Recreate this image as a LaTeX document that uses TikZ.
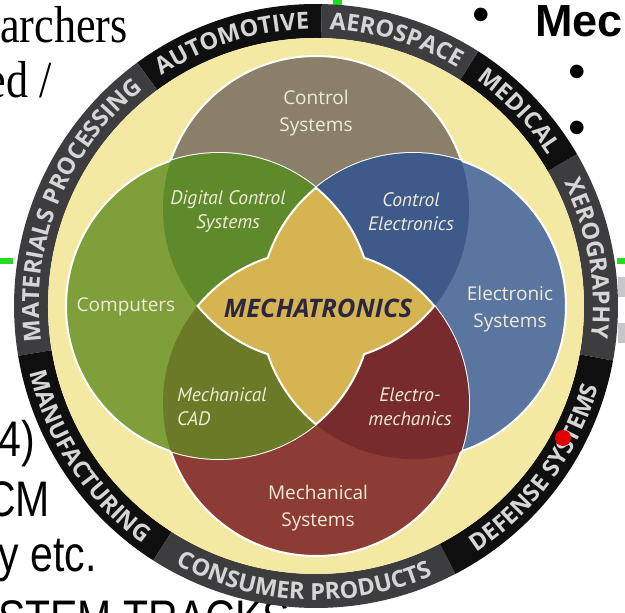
\documentclass[tikz,border=0pt]{standalone}
\usepackage{fontspec}
\setmainfont{PT Sans}
\newfontfamily\ringfamily{Open Sans}
\newfontfamily\slideserif[FakeStretch=0.85]{Liberation Serif}
\newfontfamily\slidesans[FakeStretch=0.82]{Liberation Sans}
\newfontfamily\slidebold{Liberation Sans}
\usetikzlibrary{decorations.text}

\definecolor{ringblack}{HTML}{0F0F0F}
\definecolor{ringgrey}{HTML}{3D3D40}
\definecolor{ringtext}{HTML}{D6D6D6}
\definecolor{bandyellow}{HTML}{F4E9A3}
\definecolor{ctrlgrey}{HTML}{8A806A}
\definecolor{compgreen}{HTML}{7E9F3A}
\definecolor{digigreen}{HTML}{5F8A2C}
\definecolor{elecblue}{HTML}{5A76A0}
\definecolor{ctrlblue}{HTML}{3D5A8A}
\definecolor{mechred}{HTML}{8C3C34}
\definecolor{emred}{HTML}{772B2D}
\definecolor{cadolive}{HTML}{6B7A27}
\definecolor{stargold}{HTML}{D6B451}
\definecolor{labeltext}{HTML}{EFEBD8}
\definecolor{mechatext}{HTML}{2B2742}
\definecolor{slidegreen}{HTML}{22DD22}

\newcommand{\ringfont}{\ringfamily\bfseries\fontsize{23.5}{23.5}\selectfont\color{ringtext}}
% words in the ring, read clockwise (top) or anticlockwise (bottom)
\newcommand{\ringtop}[3]{\path[decorate, decoration={text along path, text align=center,
    text={|\ringfont|#1}}] (#2:277) arc[start angle=#2, end angle=#3, radius=277];}
\newcommand{\ringbot}[3]{\path[decorate, decoration={text along path, text align=center,
    text={|\ringfont|#1}}] (#2:294) arc[start angle=#2, end angle=#3, radius=294];}

\tikzset{
  disc/.style={draw=white, line width=2pt},
  star/.style={draw=white, line width=2pt, fill=stargold},
  area/.style={text=labeltext, align=center, inner sep=0pt, font=\ringfamily\fontsize{19}{27}\selectfont},
  lens/.style={text=labeltext, align=center, inner sep=0pt, font=\itshape\fontsize{19.5}{24}\selectfont},
  core/.style={text=mechatext, inner sep=0pt, font=\ringfamily\bfseries\itshape\fontsize{25.5}{25.5}\selectfont},
  slide/.style={anchor=base east, inner sep=0pt, font=\slideserif\fontsize{52}{52}\selectfont},
  slidesf/.style={anchor=base east, inner sep=0pt, font=\slidesans\fontsize{50}{50}\selectfont},
  bullet/.style={inner sep=0pt, font=\slidebold\fontsize{50}{50}\selectfont}
}

\begin{document}
\begin{tikzpicture}[x=1pt, y=1pt]
  \useasboundingbox (-316,-307) rectangle (309,306);
  \clip (-316,-307) rectangle (309,306);
  % slide behind the wheel
  \node[slide] (archers) at (-188,263) {archers};
  \node[slide] (edslash) at (-264,208) {ed /};
  \node[bullet] (bull1) at (165,286) {•};
  \node[anchor=base west, inner sep=0pt, font=\slidebold\bfseries\fontsize{45}{45}\selectfont] (mec) at (219,269) {Mec};
  \node[bullet] (bull2) at (261,229) {•};
  \node[bullet] (bull3) at (261,173) {•};
  \node[slidesf] (four) at (-281,-151) {4)};
  \node[slidesf] (cm) at (-266,-211) {CM};
  \node[slidesf] (etc) at (-219,-266) {y etc.};
  \node[slidesf] (tracks) at (-26,-330) {STEM TRACKS};
  \fill[slidegreen] (17,299) rectangle (26,306);
  \fill[slidegreen] (-316,42) rectangle (-303,48);
  \fill[slidegreen] (301,42) rectangle (309,48);
  \fill[black!22] (302,29) rectangle (309,9);
  \fill[black!22] (302,-17) rectangle (309,-37);

  % ring of fields
  \foreach \sa/\sb/\sc in {-10.4/30.2/ringgrey, 30.2/57.5/ringblack, 57.5/88.9/ringgrey,
      88.9/126.3/ringblack, 126.3/189.5/ringgrey, 189.5/237.4/ringblack,
      237.4/297.5/ringgrey, 297.5/349.6/ringblack}
    \fill[\sc] (\sa:302) arc[start angle=\sa, end angle=\sb, radius=302]
      -- (\sb:268) arc[start angle=\sb, end angle=\sa, radius=268] -- cycle;
  \ringtop{AUTOMOTIVE}{126.3}{88.9}
  \ringtop{AEROSPACE}{88.9}{57.5}
  \ringtop{MEDICAL}{57.5}{30.2}
  \ringtop{XEROGRAPHY}{30.2}{-10.4}
  \ringtop{MATERIALS PROCESSING}{189.5}{126.3}
  \ringbot{MANUFACTURING}{189.5}{237.4}
  \ringbot{CONSUMER PRODUCTS}{237.4}{297.5}
  \ringbot{DEFENSE SYSTEMS}{297.5}{349.6}

  % four disciplines
  \fill[bandyellow] (0,0) circle[radius=268];
  \coordinate (ctrlc) at (0,97);
  \coordinate (compc) at (-97,0);
  \coordinate (elecc) at (97,0);
  \coordinate (mechc) at (0,-97);
  \filldraw[disc, fill=ctrlgrey] (ctrlc) circle[radius=153];
  \filldraw[disc, fill=elecblue] (elecc) circle[radius=153];
  \filldraw[disc, fill=mechred] (mechc) circle[radius=153];
  \filldraw[disc, fill=compgreen] (compc) circle[radius=153];
  % overlaps
  \begin{scope}
    \clip (ctrlc) circle[radius=153];
    \fill[digigreen] (compc) circle[radius=153];
    \fill[ctrlblue] (elecc) circle[radius=153];
  \end{scope}
  \begin{scope}
    \clip (mechc) circle[radius=153];
    \fill[cadolive] (compc) circle[radius=153];
    \fill[emred] (elecc) circle[radius=153];
  \end{scope}
  % centre star
  \filldraw[star] (-118.32,0)
    arc[start angle=140.65, end angle=108.37, radius=153]
    arc[start angle=161.63, end angle=129.35, radius=153]
    arc[start angle=50.65, end angle=18.37, radius=153]
    arc[start angle=71.63, end angle=39.35, radius=153]
    arc[start angle=-39.35, end angle=-71.63, radius=153]
    arc[start angle=-18.37, end angle=-50.65, radius=153]
    arc[start angle=-129.35, end angle=-161.63, radius=153]
    arc[start angle=-108.37, end angle=-140.65, radius=153] -- cycle;

  % labels
  \node[area] (ctrl) at (0,193) {Control\\Systems};
  \node[lens] (digital) at (-88,94) {Digital Control\\Systems};
  \node[lens] (ctrlel) at (95,94) {Control\\Electronics};
  \node[area] (comp) at (-190,-1) {Computers};
  \node[core] (mecha) at (2,-2) {MECHATRONICS};
  \node[area] (elec) at (194,-3) {Electronic\\Systems};
  \node[lens, align=left, anchor=west] (cad) at (-139,-101) {Mechanical\\CAD};
  \node[lens] (elmech) at (94,-101) {Electro-\\mechanics};
  \node[area] (mech) at (2,-202) {Mechanical\\Systems};

  \fill[red!90!black] (247,-132) circle[radius=8];
\end{tikzpicture}
\end{document}
